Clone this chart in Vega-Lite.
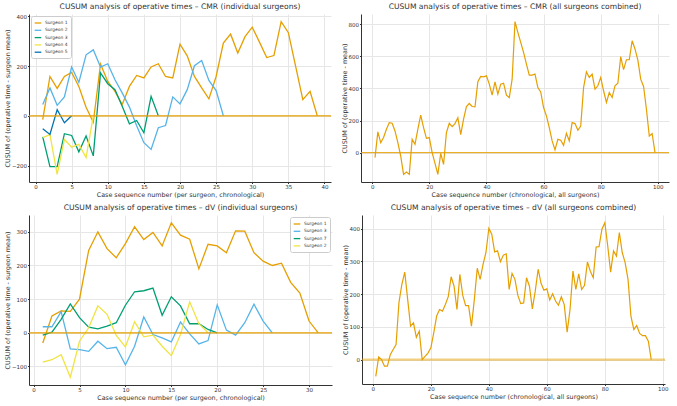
{
  "$schema": "https://vega.github.io/schema/vega-lite/v6.json",
  "background": "white",
  "padding": {"left": 4, "top": 3, "right": 4, "bottom": 2},
  "config": {
    "font": "DejaVu Sans",
    "view": {"stroke": null},
    "title": {"fontSize": 7.6, "fontWeight": "normal", "color": "#333333", "offset": 3, "font": "DejaVu Sans"},
    "axis": {"labelFontSize": 5.5, "titleFontSize": 6.4, "titleFontWeight": "normal", "domainColor": "#333333", "tickColor": "#333333", "tickSize": 1.5, "gridColor": "#e6e6e6", "labelPadding": 1, "titlePadding": 1, "labelColor": "#333333", "titleColor": "#333333", "labelFont": "DejaVu Sans", "titleFont": "DejaVu Sans"},
    "legend": {"labelFontSize": 4.4, "symbolType": "stroke", "symbolStrokeWidth": 1.3, "symbolSize": 44, "fillColor": "white", "strokeColor": "#cccccc", "padding": 3, "cornerRadius": 2, "rowPadding": 0.3, "offset": 2, "labelFont": "DejaVu Sans", "labelColor": "#333333", "labelOffset": 3}
  },
  "datasets": {
    "cmr_ind": [
      {"s":"Surgeon 1","x":1,"y":-15},{"s":"Surgeon 1","x":2,"y":158},{"s":"Surgeon 1","x":3,"y":110},{"s":"Surgeon 1","x":4,"y":158},{"s":"Surgeon 1","x":5,"y":174},{"s":"Surgeon 1","x":6,"y":118},{"s":"Surgeon 1","x":7,"y":34},{"s":"Surgeon 1","x":8,"y":-26},{"s":"Surgeon 1","x":9,"y":208},{"s":"Surgeon 1","x":10,"y":138},
      {"s":"Surgeon 1","x":11,"y":98},{"s":"Surgeon 1","x":12,"y":45},{"s":"Surgeon 1","x":13,"y":118},{"s":"Surgeon 1","x":14,"y":162},{"s":"Surgeon 1","x":15,"y":152},{"s":"Surgeon 1","x":16,"y":196},{"s":"Surgeon 1","x":17,"y":209},{"s":"Surgeon 1","x":18,"y":158},{"s":"Surgeon 1","x":19,"y":152},{"s":"Surgeon 1","x":20,"y":288},
      {"s":"Surgeon 1","x":21,"y":241},{"s":"Surgeon 1","x":22,"y":158},{"s":"Surgeon 1","x":23,"y":112},{"s":"Surgeon 1","x":24,"y":68},{"s":"Surgeon 1","x":25,"y":158},{"s":"Surgeon 1","x":26,"y":292},{"s":"Surgeon 1","x":27,"y":328},{"s":"Surgeon 1","x":28,"y":252},{"s":"Surgeon 1","x":29,"y":318},{"s":"Surgeon 1","x":30,"y":356},
      {"s":"Surgeon 1","x":31,"y":296},{"s":"Surgeon 1","x":32,"y":234},{"s":"Surgeon 1","x":33,"y":242},{"s":"Surgeon 1","x":34,"y":378},{"s":"Surgeon 1","x":35,"y":334},{"s":"Surgeon 1","x":36,"y":200},{"s":"Surgeon 1","x":37,"y":65},{"s":"Surgeon 1","x":38,"y":98},{"s":"Surgeon 1","x":39,"y":0},
      {"s":"Surgeon 2","x":1,"y":45},{"s":"Surgeon 2","x":2,"y":112},{"s":"Surgeon 2","x":3,"y":42},{"s":"Surgeon 2","x":4,"y":76},{"s":"Surgeon 2","x":5,"y":196},{"s":"Surgeon 2","x":6,"y":134},{"s":"Surgeon 2","x":7,"y":245},{"s":"Surgeon 2","x":8,"y":265},{"s":"Surgeon 2","x":9,"y":196},{"s":"Surgeon 2","x":10,"y":209},
      {"s":"Surgeon 2","x":11,"y":145},{"s":"Surgeon 2","x":12,"y":92},{"s":"Surgeon 2","x":13,"y":35},{"s":"Surgeon 2","x":14,"y":-40},{"s":"Surgeon 2","x":15,"y":-108},{"s":"Surgeon 2","x":16,"y":-135},{"s":"Surgeon 2","x":17,"y":-48},{"s":"Surgeon 2","x":18,"y":-39},{"s":"Surgeon 2","x":19,"y":76},{"s":"Surgeon 2","x":20,"y":48},
      {"s":"Surgeon 2","x":21,"y":105},{"s":"Surgeon 2","x":22,"y":201},{"s":"Surgeon 2","x":23,"y":222},{"s":"Surgeon 2","x":24,"y":142},{"s":"Surgeon 2","x":25,"y":101},{"s":"Surgeon 2","x":26,"y":0},
      {"s":"Surgeon 3","x":1,"y":-85},{"s":"Surgeon 3","x":2,"y":-204},{"s":"Surgeon 3","x":3,"y":-204},{"s":"Surgeon 3","x":4,"y":-72},{"s":"Surgeon 3","x":5,"y":-79},{"s":"Surgeon 3","x":6,"y":-145},{"s":"Surgeon 3","x":7,"y":-81},{"s":"Surgeon 3","x":8,"y":-161},{"s":"Surgeon 3","x":9,"y":172},{"s":"Surgeon 3","x":10,"y":129},
      {"s":"Surgeon 3","x":11,"y":105},{"s":"Surgeon 3","x":12,"y":38},{"s":"Surgeon 3","x":13,"y":-32},{"s":"Surgeon 3","x":14,"y":-19},{"s":"Surgeon 3","x":15,"y":-68},{"s":"Surgeon 3","x":16,"y":78},{"s":"Surgeon 3","x":17,"y":0},
      {"s":"Surgeon 4","x":1,"y":-88},{"s":"Surgeon 4","x":2,"y":-76},{"s":"Surgeon 4","x":3,"y":-235},{"s":"Surgeon 4","x":4,"y":-95},{"s":"Surgeon 4","x":5,"y":-126},{"s":"Surgeon 4","x":6,"y":-115},{"s":"Surgeon 4","x":7,"y":-168},{"s":"Surgeon 4","x":8,"y":0},
      {"s":"Surgeon 5","x":1,"y":-52},{"s":"Surgeon 5","x":2,"y":-75},{"s":"Surgeon 5","x":3,"y":25},{"s":"Surgeon 5","x":4,"y":-28},{"s":"Surgeon 5","x":5,"y":0}
    ],
    "cmr_all": [
      {"x":1,"y":-31},{"x":2,"y":129},{"x":3,"y":62},{"x":4,"y":94},{"x":5,"y":146},{"x":6,"y":187},{"x":7,"y":183},{"x":8,"y":135},{"x":9,"y":62},{"x":10,"y":-21},
      {"x":11,"y":-135},{"x":12,"y":-120},{"x":13,"y":-135},{"x":14,"y":83},{"x":15,"y":52},{"x":16,"y":146},{"x":17,"y":233},{"x":18,"y":156},{"x":19,"y":89},{"x":20,"y":94},
      {"x":21,"y":0},{"x":22,"y":-67},{"x":23,"y":-135},{"x":24,"y":-4},{"x":25,"y":-73},{"x":26,"y":125},{"x":27,"y":183},{"x":28,"y":162},{"x":29,"y":181},{"x":30,"y":218},
      {"x":31,"y":112},{"x":32,"y":208},{"x":33,"y":287},{"x":34,"y":306},{"x":35,"y":287},{"x":36,"y":285},{"x":37,"y":441},{"x":38,"y":474},{"x":39,"y":472},{"x":40,"y":478},
      {"x":41,"y":426},{"x":42,"y":358},{"x":43,"y":441},{"x":44,"y":364},{"x":45,"y":426},{"x":46,"y":432},{"x":47,"y":358},{"x":48,"y":343},{"x":49,"y":457},{"x":50,"y":815},
      {"x":51,"y":748},{"x":52,"y":686},{"x":53,"y":624},{"x":54,"y":551},{"x":55,"y":482},{"x":56,"y":482},{"x":57,"y":489},{"x":58,"y":405},{"x":59,"y":378},{"x":60,"y":281},
      {"x":61,"y":229},{"x":62,"y":156},{"x":63,"y":73},{"x":64,"y":17},{"x":65,"y":83},{"x":66,"y":77},{"x":67,"y":46},{"x":68,"y":121},{"x":69,"y":73},{"x":70,"y":187},
      {"x":71,"y":181},{"x":72,"y":139},{"x":73,"y":166},{"x":74,"y":405},{"x":75,"y":503},{"x":76,"y":468},{"x":77,"y":489},{"x":78,"y":395},{"x":79,"y":416},{"x":80,"y":468},
      {"x":81,"y":385},{"x":82,"y":312},{"x":83,"y":374},{"x":84,"y":343},{"x":85,"y":416},{"x":86,"y":432},{"x":87,"y":597},{"x":88,"y":516},{"x":89,"y":578},{"x":90,"y":578},
      {"x":91,"y":696},{"x":92,"y":645},{"x":93,"y":576},{"x":94,"y":457},{"x":95,"y":412},{"x":96,"y":270},{"x":97,"y":104},{"x":98,"y":119},{"x":99,"y":0}
    ],
    "dv_ind": [
      {"s":"Surgeon 1","x":1,"y":-30},{"s":"Surgeon 1","x":2,"y":50},{"s":"Surgeon 1","x":3,"y":65},{"s":"Surgeon 1","x":4,"y":64},{"s":"Surgeon 1","x":5,"y":100},{"s":"Surgeon 1","x":6,"y":245},{"s":"Surgeon 1","x":7,"y":300},{"s":"Surgeon 1","x":8,"y":250},{"s":"Surgeon 1","x":9,"y":223},{"s":"Surgeon 1","x":10,"y":265},
      {"s":"Surgeon 1","x":11,"y":315},{"s":"Surgeon 1","x":12,"y":277},{"s":"Surgeon 1","x":13,"y":298},{"s":"Surgeon 1","x":14,"y":258},{"s":"Surgeon 1","x":15,"y":327},{"s":"Surgeon 1","x":16,"y":290},{"s":"Surgeon 1","x":17,"y":278},{"s":"Surgeon 1","x":18,"y":190},{"s":"Surgeon 1","x":19,"y":263},{"s":"Surgeon 1","x":20,"y":258},
      {"s":"Surgeon 1","x":21,"y":238},{"s":"Surgeon 1","x":22,"y":303},{"s":"Surgeon 1","x":23,"y":302},{"s":"Surgeon 1","x":24,"y":238},{"s":"Surgeon 1","x":25,"y":213},{"s":"Surgeon 1","x":26,"y":200},{"s":"Surgeon 1","x":27,"y":207},{"s":"Surgeon 1","x":28,"y":150},{"s":"Surgeon 1","x":29,"y":118},{"s":"Surgeon 1","x":30,"y":35},{"s":"Surgeon 1","x":31,"y":0},
      {"s":"Surgeon 3","x":1,"y":18},{"s":"Surgeon 3","x":2,"y":18},{"s":"Surgeon 3","x":3,"y":63},{"s":"Surgeon 3","x":4,"y":-48},{"s":"Surgeon 3","x":5,"y":-50},{"s":"Surgeon 3","x":6,"y":-55},{"s":"Surgeon 3","x":7,"y":-25},{"s":"Surgeon 3","x":8,"y":-47},{"s":"Surgeon 3","x":9,"y":-43},{"s":"Surgeon 3","x":10,"y":-95},
      {"s":"Surgeon 3","x":11,"y":-40},{"s":"Surgeon 3","x":12,"y":47},{"s":"Surgeon 3","x":13,"y":-5},{"s":"Surgeon 3","x":14,"y":-15},{"s":"Surgeon 3","x":15,"y":-27},{"s":"Surgeon 3","x":16,"y":32},{"s":"Surgeon 3","x":17,"y":-3},{"s":"Surgeon 3","x":18,"y":-33},{"s":"Surgeon 3","x":19,"y":-23},{"s":"Surgeon 3","x":20,"y":83},
      {"s":"Surgeon 3","x":21,"y":8},{"s":"Surgeon 3","x":22,"y":-7},{"s":"Surgeon 3","x":23,"y":30},{"s":"Surgeon 3","x":24,"y":85},{"s":"Surgeon 3","x":25,"y":35},{"s":"Surgeon 3","x":26,"y":0},
      {"s":"Surgeon 7","x":1,"y":-7},{"s":"Surgeon 7","x":2,"y":2},{"s":"Surgeon 7","x":3,"y":40},{"s":"Surgeon 7","x":4,"y":86},{"s":"Surgeon 7","x":5,"y":45},{"s":"Surgeon 7","x":6,"y":17},{"s":"Surgeon 7","x":7,"y":12},{"s":"Surgeon 7","x":8,"y":20},{"s":"Surgeon 7","x":9,"y":30},{"s":"Surgeon 7","x":10,"y":82},
      {"s":"Surgeon 7","x":11,"y":122},{"s":"Surgeon 7","x":12,"y":125},{"s":"Surgeon 7","x":13,"y":133},{"s":"Surgeon 7","x":14,"y":52},{"s":"Surgeon 7","x":15,"y":107},{"s":"Surgeon 7","x":16,"y":80},{"s":"Surgeon 7","x":17,"y":27},{"s":"Surgeon 7","x":18,"y":27},{"s":"Surgeon 7","x":19,"y":10},{"s":"Surgeon 7","x":20,"y":0},
      {"s":"Surgeon 2","x":1,"y":-87},{"s":"Surgeon 2","x":2,"y":-80},{"s":"Surgeon 2","x":3,"y":-65},{"s":"Surgeon 2","x":4,"y":-132},{"s":"Surgeon 2","x":5,"y":-25},{"s":"Surgeon 2","x":6,"y":15},{"s":"Surgeon 2","x":7,"y":80},{"s":"Surgeon 2","x":8,"y":55},{"s":"Surgeon 2","x":9,"y":-8},{"s":"Surgeon 2","x":10,"y":-42},
      {"s":"Surgeon 2","x":11,"y":33},{"s":"Surgeon 2","x":12,"y":-12},{"s":"Surgeon 2","x":13,"y":-7},{"s":"Surgeon 2","x":14,"y":-40},{"s":"Surgeon 2","x":15,"y":-68},{"s":"Surgeon 2","x":16,"y":-5},{"s":"Surgeon 2","x":17,"y":92},{"s":"Surgeon 2","x":18,"y":27},{"s":"Surgeon 2","x":19,"y":0}
    ],
    "dv_all": [
      {"x":1,"y":-51},{"x":2,"y":8},{"x":3,"y":0},{"x":4,"y":-20},{"x":5,"y":-20},{"x":6,"y":15},{"x":7,"y":31},{"x":8,"y":46},{"x":9,"y":175},{"x":10,"y":230},
      {"x":11,"y":267},{"x":12,"y":184},{"x":13,"y":102},{"x":14,"y":112},{"x":15,"y":68},{"x":16,"y":87},{"x":17,"y":0},{"x":18,"y":10},{"x":19,"y":20},{"x":20,"y":36},
      {"x":21,"y":82},{"x":22,"y":133},{"x":23,"y":153},{"x":24,"y":148},{"x":25,"y":168},{"x":26,"y":192},{"x":27,"y":253},{"x":28,"y":224},{"x":29,"y":153},{"x":30,"y":260},
      {"x":31,"y":196},{"x":32,"y":165},{"x":33,"y":165},{"x":34,"y":102},{"x":35,"y":184},{"x":36,"y":279},{"x":37,"y":245},{"x":38,"y":291},{"x":39,"y":327},{"x":40,"y":401},
      {"x":41,"y":383},{"x":42,"y":329},{"x":43,"y":332},{"x":44,"y":299},{"x":45,"y":319},{"x":46,"y":323},{"x":47,"y":214},{"x":48,"y":263},{"x":49,"y":245},{"x":50,"y":196},
      {"x":51,"y":171},{"x":52,"y":173},{"x":53,"y":250},{"x":54,"y":224},{"x":55,"y":155},{"x":56,"y":209},{"x":57,"y":276},{"x":58,"y":233},{"x":59,"y":212},{"x":60,"y":216},
      {"x":61,"y":182},{"x":62,"y":201},{"x":63,"y":179},{"x":64,"y":166},{"x":65,"y":192},{"x":66,"y":168},{"x":67,"y":84},{"x":68,"y":153},{"x":69,"y":270},{"x":70,"y":214},
      {"x":71,"y":262},{"x":72,"y":214},{"x":73,"y":227},{"x":74,"y":298},{"x":75,"y":270},{"x":76,"y":250},{"x":77,"y":344},{"x":78,"y":345},{"x":79,"y":398},{"x":80,"y":418},
      {"x":81,"y":347},{"x":82,"y":267},{"x":83,"y":332},{"x":84,"y":316},{"x":85,"y":388},{"x":86,"y":327},{"x":87,"y":296},{"x":88,"y":245},{"x":89,"y":133},{"x":90,"y":92},
      {"x":91,"y":104},{"x":92,"y":80},{"x":93,"y":73},{"x":94,"y":73},{"x":95,"y":56},{"x":96,"y":0}
    ]
  },
  "spacing": 6,
  "resolve": {"scale": {"color": "independent"}, "legend": {"color": "independent"}},
  "vconcat": [
    {
      "spacing": 9,
      "resolve": {"scale": {"color": "independent"}, "legend": {"color": "independent"}},
      "hconcat": [
        {
          "width": 302, "height": 168,
          "title": "CUSUM analysis of operative times – CMR (individual surgeons)",
          "layer": [
            {
              "data": {"name": "cmr_ind"},
              "mark": {"type": "line", "strokeWidth": 1.3},
              "encoding": {
                "x": {"field": "x", "type": "quantitative", "scale": {"domain": [-0.9, 40.9], "nice": false, "zero": false}, "axis": {"values": [0,5,10,15,20,25,30,35,40], "title": "Case sequence number (per surgeon, chronological)"}},
                "y": {"field": "y", "type": "quantitative", "scale": {"domain": [-266, 409], "nice": false, "zero": false}, "axis": {"values": [-200,-100,0,100,200,300,400], "title": "CUSUM of (operative time - surgeon mean)"}},
                "color": {"field": "s", "type": "nominal", "scale": {"domain": ["Surgeon 1","Surgeon 2","Surgeon 3","Surgeon 4","Surgeon 5"], "range": ["#E69F00","#56B4E9","#009E73","#F0E442","#0072B2"]}, "legend": {"orient": "top-left", "title": null}}
              }
            },
            {
              "data": {"values": [{}]},
              "mark": {"type": "rule", "color": "#E69F00", "strokeWidth": 1.3},
              "encoding": {"y": {"datum": 0}}
            }
          ]
        },
        {
          "width": 308, "height": 168,
          "title": "CUSUM analysis of operative times – CMR (all surgeons combined)",
          "layer": [
            {
              "data": {"name": "cmr_all"},
              "mark": {"type": "line", "strokeWidth": 1.2, "color": "#E69F00"},
              "encoding": {
                "x": {"field": "x", "type": "quantitative", "scale": {"domain": [-3.9, 103.9], "nice": false, "zero": false}, "axis": {"values": [0,20,40,60,80,100], "title": "Case sequence number (chronological, all surgeons)"}},
                "y": {"field": "y", "type": "quantitative", "scale": {"domain": [-182.5, 862.5], "nice": false, "zero": false}, "axis": {"values": [0,200,400,600,800], "title": "CUSUM of (operative time - mean)"}}
              }
            },
            {
              "data": {"values": [{}]},
              "mark": {"type": "rule", "color": "#E69F00", "strokeWidth": 1},
              "encoding": {"y": {"datum": 0}}
            }
          ]
        }
      ]
    },
    {
      "spacing": 9,
      "resolve": {"scale": {"color": "independent"}, "legend": {"color": "independent"}},
      "hconcat": [
        {
          "width": 303, "height": 170,
          "title": "CUSUM analysis of operative times – dV (individual surgeons)",
          "layer": [
            {
              "data": {"name": "dv_ind"},
              "mark": {"type": "line", "strokeWidth": 1.3},
              "encoding": {
                "x": {"field": "x", "type": "quantitative", "scale": {"domain": [-0.5, 32.5], "nice": false, "zero": false}, "axis": {"values": [0,5,10,15,20,25,30], "title": "Case sequence number (per surgeon, chronological)"}},
                "y": {"field": "y", "type": "quantitative", "scale": {"domain": [-155, 350], "nice": false, "zero": false}, "axis": {"values": [-100,0,100,200,300], "title": "CUSUM of (operative time - surgeon mean)"}},
                "color": {"field": "s", "type": "nominal", "scale": {"domain": ["Surgeon 1","Surgeon 3","Surgeon 7","Surgeon 2"], "range": ["#E69F00","#56B4E9","#009E73","#F0E442"]}, "legend": {"orient": "top-right", "title": null}}
              }
            },
            {
              "data": {"values": [{}]},
              "mark": {"type": "rule", "color": "#E69F00", "strokeWidth": 1.3},
              "encoding": {"y": {"datum": 0}}
            }
          ]
        },
        {
          "width": 303, "height": 169,
          "title": "CUSUM analysis of operative times – dV (all surgeons combined)",
          "layer": [
            {
              "data": {"name": "dv_all"},
              "mark": {"type": "line", "strokeWidth": 1.2, "color": "#E69F00"},
              "encoding": {
                "x": {"field": "x", "type": "quantitative", "scale": {"domain": [-3.75, 100.75], "nice": false, "zero": false}, "axis": {"values": [0,20,40,60,80,100], "title": "Case sequence number (chronological, all surgeons)"}},
                "y": {"field": "y", "type": "quantitative", "scale": {"domain": [-74.5, 441.5], "nice": false, "zero": false}, "axis": {"values": [0,100,200,300,400], "title": "CUSUM of (operative time - mean)"}}
              }
            },
            {
              "data": {"values": [{}]},
              "mark": {"type": "rule", "color": "#E69F00", "strokeWidth": 2.2, "opacity": 0.5},
              "encoding": {"y": {"datum": 0}}
            }
          ]
        }
      ]
    }
  ]
}
